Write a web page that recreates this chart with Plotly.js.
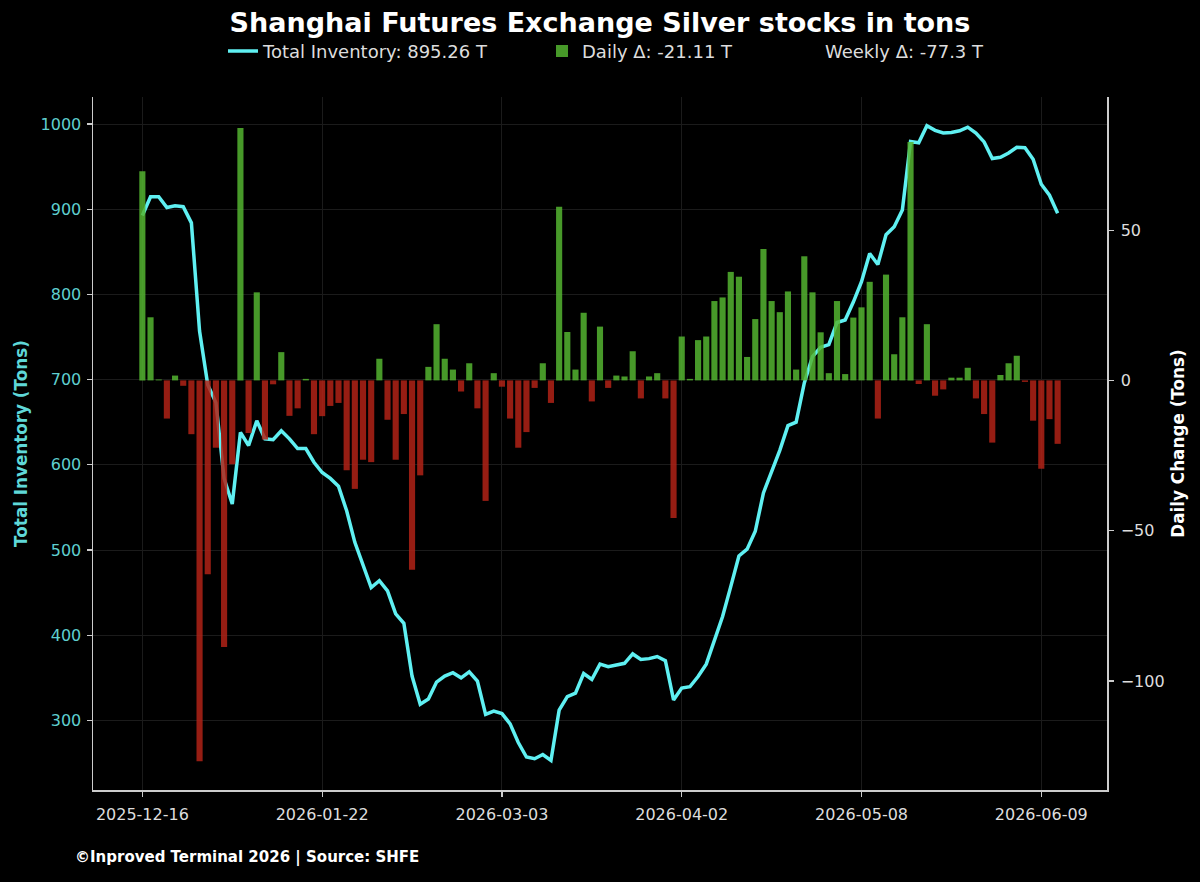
<!DOCTYPE html>
<html>
<head>
<meta charset="utf-8">
<script src="https://cdn.plot.ly/plotly-3.0.1.min.js"></script>
<style>
  html, body { margin: 0; padding: 0; background: #000; }
  #chart { width: 1200px; height: 882px; }
</style>
</head>
<body>
<div id="chart"></div>
<script>
// Trading-day index tick labels (every 22nd session)
const tickIndex = [0, 22, 44, 66, 88, 110];
const tickLabels = ['2025-12-16', '2026-01-22', '2026-03-03', '2026-04-02', '2026-05-08', '2026-06-09'];

// Total inventory in tons (one value per trading session)
const inventory = [
  892.6, 914.5, 914.7, 902, 904, 903, 884, 757, 694, 673,
  584, 554, 638, 622.6, 651.6, 630.5, 629.5, 640, 630.5, 619,
  619, 603, 591, 584, 575, 546, 509, 483, 456, 464,
  452, 425, 414, 352, 319, 325, 345, 352, 356, 350,
  357, 346, 307, 311, 308, 296, 274, 257, 255, 260,
  253, 312, 328, 332, 355, 348, 366, 363, 364.5, 367,
  378, 371.5, 372.5, 375, 370, 324, 338, 339.5, 351.5, 366,
  394, 422, 457, 493, 501, 522, 567, 593, 617, 646,
  650, 696, 727, 738, 741, 767, 770, 791, 815, 848,
  835, 870, 879.5, 899, 979.5, 978, 998, 992.6, 989.5, 990,
  992, 996.3, 989.5, 979, 959.5, 961, 966, 972.6, 972.1, 958.7,
  929.3, 916.4, 895.26
];

// Daily change in tons
const dailyChange = [
  69.6, 21.0, 0.3, -12.7, 1.6, -1.8, -17.9, -126.7, -64.5, -22.4,
  -88.7, -27.9, 84.0, -17.5, 29.3, -19.7, -1.3, 9.4, -11.8, -9.3,
  0.5, -17.9, -11.9, -8.5, -7.5, -29.9, -36.1, -26.4, -27.2, 7.2,
  -13.1, -26.4, -11.2, -63.0, -31.6, 4.5, 18.7, 7.2, 3.6, -3.7,
  5.7, -9.3, -40.1, 2.4, -2.1, -12.7, -22.4, -17.2, -2.5, 5.7,
  -7.5, 57.8, 16.1, 3.6, 22.5, -7.0, 17.9, -2.5, 1.6, 1.3,
  9.7, -6.0, 1.3, 2.4, -6.0, -45.8, 14.6, 0.5, 13.4, 14.6,
  26.4, 27.6, 36.1, 34.5, 7.8, 20.4, 43.7, 26.4, 22.7, 29.6,
  3.6, 41.3, 29.3, 16.0, 2.4, 26.4, 2.1, 20.9, 24.3, 32.8,
  -12.7, 35.2, 8.7, 21.0, 79.3, -1.2, 18.7, -5.1, -3.0, 0.9,
  0.9, 4.2, -6.0, -11.2, -20.7, 1.8, 5.7, 8.2, -0.5, -13.4,
  -29.4, -12.9, -21.11
];

const idx = inventory.map((_, i) => i);
const last = inventory.length - 1;
const weekly = dailyChange.slice(-5).reduce((a, b) => a + b, 0);

const GREEN = 'rgba(84,180,48,0.85)';
const RED = 'rgba(176,34,22,0.85)';
const CYAN = '#5ff0f2';
const FONT = 'DejaVu Sans, Verdana, sans-serif';
const LEGEND_FONT = { family: FONT, size: 18, color: '#dddddd' };

const traces = [
  {
    type: 'scatter', mode: 'lines', x: idx, y: inventory, yaxis: 'y', legend: 'legend',
    name: 'Total Inventory: ' + inventory[last].toFixed(2) + ' T',
    line: { color: CYAN, width: 3.5 },
    hoverinfo: 'skip'
  },
  {
    type: 'bar', x: idx, y: dailyChange, yaxis: 'y2', legend: 'legend2',
    name: 'Daily Δ: ' + dailyChange[last].toFixed(2) + ' T',
    marker: { color: dailyChange.map(v => v >= 0 ? GREEN : RED), line: { width: 0 } },
    hoverinfo: 'skip'
  },
  {
    type: 'scatter', mode: 'lines', x: [null], y: [null], yaxis: 'y', legend: 'legend3',
    name: 'Weekly Δ: ' + weekly.toFixed(1) + ' T',
    line: { color: 'rgba(0,0,0,0)', width: 0 },
    hoverinfo: 'skip'
  }
];

function legendAt(xp) {
  return {
    orientation: 'h', x: xp, xanchor: 'left', y: 1.066, yanchor: 'middle',
    font: LEGEND_FONT, bgcolor: 'rgba(0,0,0,0)', borderwidth: 0
  };
}

const layout = {
  width: 1200, height: 882,
  paper_bgcolor: '#000000', plot_bgcolor: '#000000',
  font: { family: FONT, color: '#dddddd', size: 16 },
  margin: { l: 93, r: 93, t: 97, b: 92, pad: 0 },
  title: {
    text: '<b>Shanghai Futures Exchange Silver stocks in tons</b>',
    font: { family: FONT, size: 27, color: '#ffffff' },
    x: 0.5, xanchor: 'center', y: 0.975, yanchor: 'middle', yref: 'container'
  },
  showlegend: true,
  legend: legendAt(0.1282),
  legend2: legendAt(0.4428),
  legend3: legendAt(0.6824),
  bargap: 0.25,
  xaxis: {
    range: [-6.04, 118.04], tickmode: 'array', tickvals: tickIndex, ticktext: tickLabels,
    showgrid: true, gridcolor: '#1b1b1b', gridwidth: 1, zeroline: false,
    showline: true, linecolor: '#cccccc', linewidth: 1.5,
    ticks: 'outside', ticklen: 5, tickwidth: 1.2, tickcolor: '#cccccc', ticklabelstandoff: 4,
    tickfont: { family: FONT, size: 16, color: '#dddddd' }
  },
  yaxis: {
    range: [218.3, 1031.7], tickvals: [300, 400, 500, 600, 700, 800, 900, 1000],
    showgrid: true, gridcolor: '#1b1b1b', gridwidth: 1, zeroline: false,
    showline: true, linecolor: '#cccccc', linewidth: 1.5,
    ticks: 'outside', ticklen: 5, tickwidth: 1.2, tickcolor: '#cccccc', ticklabelstandoff: 2,
    tickfont: { family: FONT, size: 16, color: '#5fcfcf' },
    title: { text: '<b>Total Inventory (Tons)</b>', font: { family: FONT, size: 16.8, color: '#5fd8d8' }, standoff: 8 }
  },
  yaxis2: {
    overlaying: 'y', side: 'right', range: [-136.3, 94.3], tickvals: [-100, -50, 0, 50],
    showgrid: false, zeroline: false,
    showline: true, linecolor: '#cccccc', linewidth: 1.5,
    ticks: 'outside', ticklen: 5, tickwidth: 1.2, tickcolor: '#cccccc', ticklabelstandoff: 4,
    tickfont: { family: FONT, size: 16, color: '#dddddd' },
    title: { text: '<b>Daily Change (Tons)</b>', font: { family: FONT, size: 16.8, color: '#ffffff' }, standoff: 8 }
  },
  annotations: [
    {
      text: '<b>©Inproved Terminal 2026 | Source: SHFE</b>',
      xref: 'paper', yref: 'paper', x: -0.0197, y: -0.098, xanchor: 'left', yanchor: 'middle',
      showarrow: false, font: { family: FONT, size: 15, color: '#ffffff' }
    }
  ]
};

Plotly.newPlot('chart', traces, layout, { displayModeBar: false, staticPlot: true });
</script>
</body>
</html>
